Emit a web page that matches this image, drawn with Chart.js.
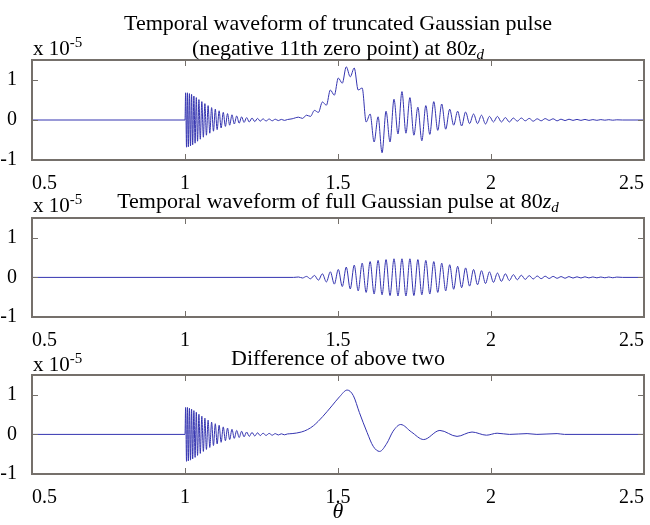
<!DOCTYPE html>
<html>
<head>
<meta charset="utf-8">
<script src="https://cdn.jsdelivr.net/npm/chart.js@4.4.1/dist/chart.umd.min.js"></script>
<style>
  body { margin: 0; background: #fff; width: 650px; height: 525px; overflow: hidden; position: relative; font-family: 'Liberation Serif', serif; }
  canvas { position: absolute; left: 0; top: 0; }
  .ttl { position: absolute; left: 32px; width: 612px; text-align: center; font-size: 22px; line-height: 25px; color: #000; white-space: nowrap; }
  .exp { position: absolute; left: 33px; font-size: 21px; line-height: 25px; color: #000; }
  .exp sup { font-size: 15px; vertical-align: 8px; line-height: 0; }
  sub { font-size: 15px; vertical-align: -4px; line-height: 0; }
</style>
</head>
<body>
<canvas id="c1" width="650" height="525"></canvas>
<canvas id="c2" width="650" height="525"></canvas>
<canvas id="c3" width="650" height="525"></canvas>

<div class="ttl" style="top:10px">Temporal waveform of truncated Gaussian pulse<br>(negative 11th zero point) at 80<i>z<sub>d</sub></i></div>
<div class="exp" style="top:36px">x 10<sup>-5</sup></div>
<div class="ttl" style="top:188px">Temporal waveform of full Gaussian pulse at 80<i>z<sub>d</sub></i></div>
<div class="exp" style="top:193px">x 10<sup>-5</sup></div>
<div class="ttl" style="top:345px">Difference of above two</div>
<div class="exp" style="top:352px">x 10<sup>-5</sup></div>
<div class="ttl" style="top:498px"><i>θ</i></div>

<script>
// tick labels
const xTickValues = [0.5, 1, 1.5, 2, 2.5];
const yTickValues = [-1, 0, 1];

// oscillating burst right after theta = 1 (same in top and bottom panels), units of 1e-5
const burstX = [1.000, 1.002, 1.005, 1.008, 1.011, 1.0145, 1.018, 1.0215, 1.025, 1.029, 1.033, 1.037, 1.041, 1.0455, 1.050, 1.055, 1.060, 1.065, 1.070, 1.0755, 1.081, 1.087, 1.093, 1.099, 1.105, 1.1115, 1.118, 1.125, 1.132, 1.139, 1.146, 1.1535, 1.161, 1.169, 1.177, 1.185, 1.193, 1.2015, 1.210, 1.219, 1.228, 1.237, 1.246, 1.255, 1.265, 1.275, 1.285, 1.295, 1.305, 1.315, 1.325, 1.335];
const burstY = [0, 0.68, -0.68, 0.68, -0.67, 0.66, -0.65, 0.64, -0.62, 0.60, -0.58, 0.56, -0.53, 0.51, -0.48, 0.46, -0.43, 0.41, -0.38, 0.36, -0.33, 0.31, -0.28, 0.27, -0.24, 0.23, -0.20, 0.19, -0.16, 0.16, -0.13, 0.13, -0.10, 0.10, -0.08, 0.08, -0.06, 0.06, -0.05, 0.05, -0.04, 0.04, -0.03, 0.03, -0.025, 0.025, -0.02, 0.02, -0.015, 0.015, -0.01, 0.012];

// truncated pulse, after the burst
const truncX = [1.350, 1.371, 1.384, 1.397, 1.410, 1.423, 1.436, 1.449, 1.462, 1.475, 1.488, 1.501, 1.514, 1.527, 1.540, 1.553, 1.566, 1.579, 1.592, 1.605, 1.618, 1.631, 1.644, 1.657, 1.670, 1.683, 1.696,
  1.709, 1.722, 1.735, 1.748, 1.761, 1.774, 1.787, 1.800, 1.813, 1.826, 1.839, 1.852, 1.865, 1.878, 1.891, 1.904, 1.917, 1.930, 1.943, 1.956, 1.969, 1.982, 1.995, 2.008,
  2.021, 2.034, 2.047, 2.060, 2.073, 2.086, 2.099, 2.112, 2.125, 2.138, 2.151, 2.164, 2.177, 2.190, 2.203, 2.216, 2.229, 2.242, 2.255, 2.268, 2.281, 2.294, 2.307, 2.320,
  2.333, 2.346, 2.359, 2.372, 2.385, 2.398, 2.411, 2.430, 2.500];
const truncY = [0.03, 0.07, 0.04, 0.12, 0.09, 0.24, 0.19, 0.45, 0.37, 0.75, 0.62, 1.05, 0.92, 1.33, 1.08, 1.30, 0.75, 0.80, -0.05, 0.15, -0.55, 0.08, -0.82, 0.22, -0.55, 0.52, -0.35,
  0.71, -0.33, 0.56, -0.38, 0.32, -0.52, 0.36, -0.36, 0.46, -0.26, 0.40, -0.23, 0.27, -0.13, 0.22, -0.15, 0.20, -0.09, 0.15, -0.09, 0.12, -0.10, 0.09, -0.05,
  0.09, -0.05, 0.06, -0.05, 0.05, -0.03, 0.05, -0.02, 0.04, -0.03, 0.03, -0.02, 0.035, -0.01, 0.03, -0.02, 0.02, -0.015, 0.02, -0.01, 0.015, -0.01, 0.015, -0.01,
  0.01, -0.008, 0.01, -0.005, 0.008, -0.005, 0.005, 0, 0];

// full gaussian pulse
const fullX = [0.5, 1.355, 1.371, 1.384, 1.397, 1.410, 1.423, 1.436, 1.449, 1.462, 1.475, 1.488, 1.501, 1.514, 1.527, 1.540, 1.553, 1.566, 1.579, 1.592, 1.605, 1.618, 1.631, 1.644, 1.657, 1.670, 1.683, 1.696,
  1.709, 1.722, 1.735, 1.748, 1.761, 1.774, 1.787, 1.800, 1.813, 1.826, 1.839, 1.852, 1.865, 1.878, 1.891, 1.904, 1.917, 1.930, 1.943, 1.956, 1.969, 1.982, 1.995, 2.008,
  2.021, 2.034, 2.047, 2.060, 2.073, 2.086, 2.099, 2.112, 2.125, 2.138, 2.151, 2.164, 2.177, 2.190, 2.203, 2.216, 2.229, 2.242, 2.255, 2.268, 2.281, 2.294, 2.307, 2.320,
  2.333, 2.346, 2.359, 2.372, 2.385, 2.398, 2.411, 2.430, 2.500];
const fullY = [0, 0, 0.01, -0.015, 0.025, -0.035, 0.05, -0.07, 0.09, -0.115, 0.14, -0.17, 0.20, -0.23, 0.26, -0.29, 0.31, -0.34, 0.36, -0.38, 0.40, -0.42, 0.43, -0.44, 0.45, -0.46, 0.47, -0.47,
  0.47, -0.47, 0.47, -0.46, 0.45, -0.44, 0.43, -0.42, 0.40, -0.38, 0.36, -0.34, 0.32, -0.30, 0.28, -0.26, 0.24, -0.22, 0.20, -0.185, 0.17, -0.155, 0.14, -0.125,
  0.11, -0.10, 0.09, -0.08, 0.07, -0.06, 0.055, -0.05, 0.045, -0.04, 0.035, -0.032, 0.03, -0.027, 0.025, -0.022, 0.02, -0.02, 0.02, -0.017, 0.015, -0.015, 0.015, -0.013,
  0.012, -0.011, 0.01, -0.01, 0.01, -0.009, 0.008, 0, 0];

// difference, after the burst
const diffX = [1.35, 1.38, 1.40, 1.42, 1.45, 1.48, 1.505, 1.53, 1.55, 1.57, 1.595, 1.615, 1.636, 1.66, 1.68, 1.705, 1.74, 1.78, 1.833, 1.889, 1.938, 1.985, 2.02, 2.06, 2.118, 2.15, 2.216, 2.24, 2.5];
const diffY = [0.02, 0.06, 0.12, 0.22, 0.45, 0.72, 0.95, 1.12, 0.98, 0.55, 0.05, -0.30, -0.43, -0.22, 0.08, 0.25, 0.06, -0.13, 0.10, -0.05, 0.06, -0.02, 0.03, 0, 0.02, 0, 0.02, 0, 0];

const lineColor = '#3434b0';
const boxColor = '#75706b';

function points(xs, ys) {
  return xs.map((x, i) => ({ x: x, y: ys[i] }));
}

// matlab style box with inward ticks
const matlabAxes = {
  id: 'matlabAxes',
  afterDraw(chart) {
    const ctx = chart.ctx, a = chart.chartArea;
    const sx = chart.scales.x, sy = chart.scales.y;
    ctx.save();
    ctx.strokeStyle = boxColor;
    ctx.lineWidth = 1;
    ctx.beginPath();
    sx.ticks.forEach(t => {
      const px = Math.round(sx.getPixelForValue(t.value)) + 0.5;
      ctx.moveTo(px, a.bottom); ctx.lineTo(px, a.bottom - 6);
      ctx.moveTo(px, a.top); ctx.lineTo(px, a.top + 6);
    });
    sy.ticks.forEach(t => {
      const py = Math.round(sy.getPixelForValue(t.value)) + 0.5;
      ctx.moveTo(a.left, py); ctx.lineTo(a.left + 6, py);
      ctx.moveTo(a.right, py); ctx.lineTo(a.right - 6, py);
    });
    ctx.stroke();
    ctx.lineWidth = 2;
    ctx.strokeRect(a.left, a.top, a.right - a.left, a.bottom - a.top);
    ctx.restore();
  }
};

function makeChart(id, data, padTop, padBottom) {
  return new Chart(document.getElementById(id).getContext('2d'), {
    type: 'line',
    data: {
      datasets: [{
        data: data,
        borderColor: lineColor,
        borderWidth: 1,
        pointRadius: 0,
        fill: false,
        cubicInterpolationMode: 'monotone'
      }]
    },
    options: {
      responsive: false,
      animation: false,
      layout: { padding: { top: padTop, bottom: padBottom, left: 0, right: 6 }, autoPadding: false },
      plugins: { legend: { display: false }, tooltip: { enabled: false }, title: { display: false } },
      scales: {
        x: {
          type: 'linear', min: 0.5, max: 2.5,
          grid: { display: false }, border: { display: false },
          afterBuildTicks: s => { s.ticks = xTickValues.map(v => ({ value: v })); },
          afterFit: s => { s.height = 30; },
          ticks: { color: '#000', padding: 4, align: 'inner', maxRotation: 0,
            font: { family: 'Liberation Serif', size: 20 }, callback: v => String(v) }
        },
        y: {
          min: -1, max: 1.5,
          grid: { display: false }, border: { display: false },
          afterBuildTicks: s => { s.ticks = yTickValues.map(v => ({ value: v })); },
          afterFit: s => { s.width = 32; },
          ticks: { color: '#000', padding: 7,
            font: { family: 'Liberation Serif', size: 20 }, callback: v => String(v) }
        }
      }
    },
    plugins: [matlabAxes]
  });
}

const flatStart = points([0.5], [0]);
makeChart('c1', flatStart.concat(points(burstX, burstY), points(truncX, truncY)), 60, 335);
makeChart('c2', points(fullX, fullY), 218, 178);
makeChart('c3', flatStart.concat(points(burstX, burstY), points(diffX, diffY)), 375, 21);
</script>
</body>
</html>
